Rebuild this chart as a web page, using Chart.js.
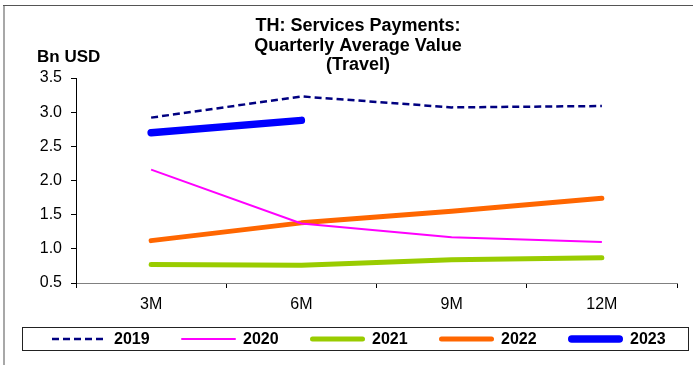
<!DOCTYPE html>
<html>
<head>
<meta charset="utf-8">
<script src="https://cdn.jsdelivr.net/npm/chart.js@4/dist/chart.umd.min.js"></script>
<style>
  html, body { margin: 0; padding: 0; background: #fff; }
  #wrap { position: relative; width: 693px; height: 365px; }
</style>
</head>
<body>
<div id="wrap"><canvas id="c" width="693" height="365"></canvas></div>
<script>
// Quarterly average value of travel services payments, Bn USD
const categories = ['3M', '6M', '9M', '12M'];
const labels2019 = '2019', labels2020 = '2020', labels2021 = '2021', labels2022 = '2022', labels2023 = '2023';
const values2019 = [2.92, 3.23, 3.07, 3.09];
const values2020 = [2.16, 1.37, 1.17, 1.10];
const values2021 = [0.77, 0.76, 0.84, 0.87];
const values2022 = [1.12, 1.38, 1.55, 1.74];
const values2023 = [2.70, 2.88];
const yMin = 0.5, yMax = 3.5, yStep = 0.5;

const titleLines = ['TH: Services Payments:', 'Quarterly Average Value', '(Travel)'];
const unitLabel = 'Bn USD';

const FONT = '"Liberation Sans", Arial, sans-serif';

// Frame, title, unit label and boxed legend
const decorations = {
  id: 'decorations',
  beforeDraw(chart) {
    const ctx = chart.ctx;
    ctx.save();
    ctx.fillStyle = '#fff';
    ctx.fillRect(0, 0, chart.width, chart.height);
    ctx.restore();
  },
  afterDraw(chart) {
    const ctx = chart.ctx;
    ctx.save();
    // outer frame (top and left edges)
    ctx.strokeStyle = '#a8a8a8';
    ctx.lineWidth = 2;
    ctx.beginPath();
    ctx.moveTo(4, 5); ctx.lineTo(4, chart.height);
    ctx.stroke();
    ctx.strokeStyle = '#555';
    ctx.lineWidth = 1;
    ctx.beginPath();
    ctx.moveTo(3, 5.5); ctx.lineTo(chart.width, 5.5);
    ctx.stroke();

    // title
    ctx.fillStyle = '#000';
    ctx.textAlign = 'center';
    ctx.textBaseline = 'middle';
    ctx.font = 'bold 18px ' + FONT;
    titleLines.forEach((t, i) => ctx.fillText(t, 358, 26.5 + i * 19.5));

    // unit label
    ctx.textAlign = 'left';
    ctx.font = 'bold 17px ' + FONT;
    ctx.fillText(unitLabel, 37, 57);

    // legend box
    const bx = 22.5, by = 327.5, bw = 666, bh = 23;
    ctx.strokeStyle = '#222';
    ctx.lineWidth = 1;
    ctx.strokeRect(bx, by, bw, bh);
    const cy = by + bh / 2;
    ctx.font = 'bold 16px ' + FONT;
    ctx.textBaseline = 'middle';
    chart.data.datasets.forEach((ds, i) => {
      const s = 52 + i * 129;
      const w = ds.borderWidth;
      ctx.save();
      ctx.strokeStyle = ds.borderColor;
      ctx.lineWidth = w;
      if (ds.borderDash && ds.borderDash.length) {
        ctx.setLineDash(ds.borderDash);
        ctx.lineCap = 'butt';
        ctx.beginPath();
        ctx.moveTo(s, cy); ctx.lineTo(s + 55, cy);
        ctx.stroke();
      } else {
        ctx.lineCap = 'round';
        ctx.beginPath();
        ctx.moveTo(s + w / 2, cy); ctx.lineTo(s + 55 - w / 2, cy);
        ctx.stroke();
      }
      ctx.restore();
      ctx.fillStyle = '#000';
      ctx.fillText(ds.label, s + 62, cy + 0.5);
    });
    ctx.restore();
  }
};

new Chart(document.getElementById('c'), {
  type: 'line',
  data: {
    labels: categories,
    datasets: [
      { label: labels2019, data: values2019, borderColor: '#000080', borderWidth: 2.5, borderDash: [7, 4], pointRadius: 0, tension: 0, fill: false },
      { label: labels2020, data: values2020, borderColor: '#ff00ff', borderWidth: 2, pointRadius: 0, tension: 0, fill: false },
      { label: labels2021, data: values2021, borderColor: '#99cc00', borderWidth: 5, pointRadius: 0, tension: 0, fill: false, borderCapStyle: 'round', borderJoinStyle: 'round' },
      { label: labels2022, data: values2022, borderColor: '#ff6600', borderWidth: 5, pointRadius: 0, tension: 0, fill: false, borderCapStyle: 'round', borderJoinStyle: 'round' },
      { label: labels2023, data: values2023, borderColor: '#0000ff', borderWidth: 7.5, pointRadius: 0, tension: 0, fill: false, borderCapStyle: 'round', borderJoinStyle: 'round' }
    ]
  },
  options: {
    responsive: false,
    devicePixelRatio: 1,
    animation: false,
    layout: { padding: { top: 78, left: 0, right: 16, bottom: 52 } },
    plugins: { legend: { display: false }, tooltip: { enabled: false }, title: { display: false } },
    scales: {
      x: {
        type: 'category',
        offset: true,
        grid: { offset: true, drawOnChartArea: false, drawTicks: true, tickLength: 5, color: '#000', lineWidth: 1 },
        border: { display: true, color: '#808080', width: 1 },
        ticks: { color: '#000', font: { family: FONT, size: 16 }, padding: 7, maxRotation: 0 },
        afterFit: s => { s.height = 30; }
      },
      y: {
        min: yMin,
        max: yMax,
        grid: { drawOnChartArea: false, drawTicks: true, tickLength: 5, color: '#000', lineWidth: 1 },
        border: { display: true, color: '#000', width: 1 },
        ticks: { stepSize: yStep, color: '#000', font: { family: FONT, size: 16 }, padding: 9, callback: v => Number(v).toFixed(1) },
        afterFit: s => { s.width = 76; }
      }
    }
  },
  plugins: [decorations]
});
</script>
</body>
</html>
